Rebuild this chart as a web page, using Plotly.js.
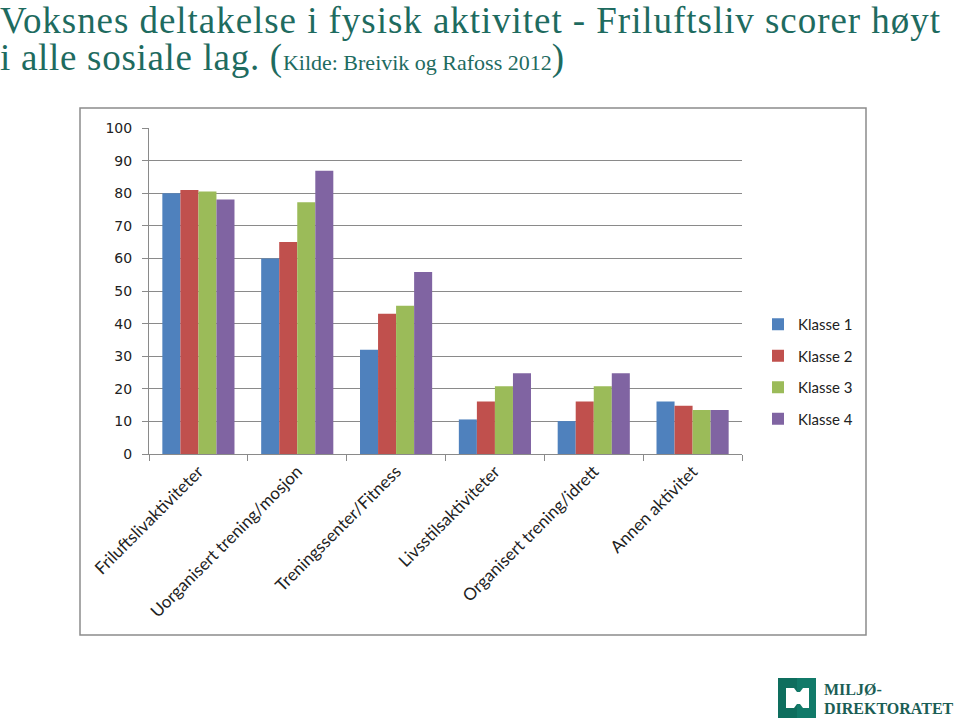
<!DOCTYPE html>
<html>
<head>
<meta charset="utf-8">
<script src="https://cdn.plot.ly/plotly-3.0.1.min.js"></script>
<style>html,body{margin:0;padding:0;background:#fff;}#chart{width:960px;height:723px;}</style>
</head>
<body>
<div id="chart"></div>
<script>
const categories = ["Friluftslivaktiviteter", "Uorganisert trening/mosjon", "Treningssenter/Fitness", "Livsstilsaktiviteter", "Organisert trening/idrett", "Annen aktivitet"];
const seriesNames = ["Klasse 1", "Klasse 2", "Klasse 3", "Klasse 4"];
const klasse1 = [80, 60, 32, 10.6, 10.1, 16.1];
const klasse2 = [81, 65, 43, 16.1, 16.1, 14.8];
const klasse3 = [80.5, 77.2, 45.5, 20.8, 20.8, 13.5];
const klasse4 = [78.1, 86.9, 55.8, 24.8, 24.8, 13.5];
const seriesValues = [klasse1, klasse2, klasse3, klasse4];
const colors = ["#4F81BD", "#C0504D", "#9BBB59", "#8064A2"];

const W = 960, H = 723;
const M = {l: 149, r: 218, t: 128, b: 269};
const PW = W - M.l - M.r, PH = H - M.t - M.b;
const px = x => (x - M.l) / PW;
const py = y => (H - M.b - y) / PH;

const traces = seriesValues.map((vals, i) => ({
  type: 'bar', name: seriesNames[i], x: categories, y: vals,
  marker: {color: colors[i], line: {width: 0}},
  legendgroup: 'g' + i, hoverinfo: 'y+name'
}));

const teal = '#1E6B5F';
const gridC = '#8A8A8A';
const serif = '"Liberation Serif", "DejaVu Serif", serif';

function ptsPath(pts) {
  return 'M' + pts.map(p => px(p[0]) + ',' + py(p[1])).join(' L') + ' Z';
}

const layout = {
  width: W, height: H,
  margin: M,
  paper_bgcolor: '#fff', plot_bgcolor: '#fff',
  barmode: 'group', bargap: 0.27, bargroupgap: 0,
  showlegend: true,
  legend: {
    x: px(758), xanchor: 'left', y: py(308), yanchor: 'top',
    traceorder: 'grouped', tracegroupgap: 9,
    font: {family: 'Lato, "Open Sans", sans-serif', size: 15, color: '#222'},
    itemwidth: 30, bgcolor: 'rgba(0,0,0,0)'
  },
  xaxis: {
    type: 'category', showgrid: false, showline: true, linecolor: gridC, linewidth: 1,
    ticks: 'outside', tickson: 'boundaries', ticklen: 6, tickcolor: gridC,
    tickangle: -45,
    tickfont: {family: 'Lato, "Open Sans", sans-serif', size: 17, color: '#222'}
  },
  yaxis: {
    range: [0, 100], dtick: 10, showgrid: true, gridcolor: gridC, gridwidth: 1,
    showline: true, linecolor: gridC, linewidth: 1, zeroline: false,
    ticks: 'outside', ticklen: 6, tickcolor: gridC, ticklabelstandoff: 7,
    tickfont: {family: '"DejaVu Sans", Verdana, sans-serif', size: 14, color: '#222'}
  },
  shapes: [
    {type: 'rect', xref: 'paper', yref: 'paper', x0: px(80), x1: px(866), y0: py(635), y1: py(108),
     line: {color: '#8C8C8C', width: 1.5}, fillcolor: 'rgba(0,0,0,0)', layer: 'below'},
    {type: 'rect', xref: 'paper', yref: 'paper', x0: px(778), x1: px(816), y0: py(718), y1: py(678),
     line: {width: 0}, fillcolor: '#117A69', layer: 'above'},
    {type: 'rect', xref: 'paper', yref: 'paper', x0: px(778), x1: px(797), y0: py(718), y1: py(678),
     line: {width: 0}, fillcolor: '#0E6E5E', layer: 'above'},
    {type: 'path', xref: 'paper', yref: 'paper',
     path: ptsPath([[786,688],[794,688],[797,692],[800,692],[803,688],[809,688],[809,708],[803,708],[800,704],[797,704],[794,708],[786,708]]),
     line: {width: 0}, fillcolor: '#FFFFFF', layer: 'above'}
  ],
  annotations: [
    {text: '<span style="letter-spacing:0.95px">Voksnes deltakelse i fysisk aktivitet - Friluftsliv scorer høyt</span>', xref: 'paper', yref: 'paper',
     x: px(-2), y: py(-2), xanchor: 'left', yanchor: 'top', showarrow: false,
     font: {family: serif, size: 37, color: teal}},
    {text: '<span style="letter-spacing:0.7px">i alle sosiale lag. (</span><span style="font-size:22px">Kilde: Breivik og Rafoss 2012</span>)', xref: 'paper', yref: 'paper',
     x: px(-2), y: py(35), xanchor: 'left', yanchor: 'top', showarrow: false,
     font: {family: serif, size: 37, color: teal}},
    {text: '<b>MILJØ-</b>', xref: 'paper', yref: 'paper', x: px(822), y: py(689), xanchor: 'left', yanchor: 'middle',
     showarrow: false, font: {family: serif, size: 16, color: '#1B5E55'}},
    {text: '<b>DIREKTORATET</b>', xref: 'paper', yref: 'paper', x: px(822), y: py(708), xanchor: 'left', yanchor: 'middle',
     showarrow: false, font: {family: serif, size: 16, color: '#1B5E55'}}
  ]
};

Plotly.newPlot('chart', traces, layout, {displayModeBar: false, staticPlot: true});
</script>
</body>
</html>
